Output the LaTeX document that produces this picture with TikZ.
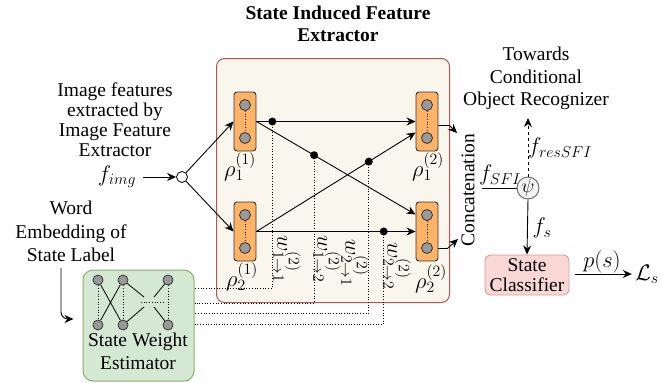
\RequirePackage{fix-cm}
\documentclass[tikz,border=0pt]{standalone}
\usepackage[no-math]{fontspec}
\setmainfont{Liberation Serif}
\usetikzlibrary{arrows.meta,calc}

\definecolor{sifeborder}{HTML}{B85450}
\definecolor{sifefill}{HTML}{F9F7ED}
\definecolor{rhoorange}{HTML}{FFB366}
\definecolor{unitgray}{HTML}{999999}
\definecolor{swegreen}{HTML}{82B366}
\definecolor{swefill}{HTML}{D5E8D4}
\definecolor{psiborder}{HTML}{666666}
\definecolor{psifill}{HTML}{F2F2F2}
\definecolor{scborder}{HTML}{DE9A98}
\definecolor{scfill}{HTML}{F8D7D5}

\begin{document}
\begin{tikzpicture}[x=1pt,y=1pt,
  font=\fontsize{19.5}{22}\selectfont,
  >={Stealth[length=9pt,width=8pt]},
  sife/.style={draw=sifeborder, fill=sifefill, rounded corners=8pt, line width=1pt},
  rhobox/.style={draw=black!80, fill=rhoorange, rounded corners=3pt,
    minimum width=22pt, minimum height=59pt, inner sep=0pt, line width=0.9pt},
  unit/.style={circle, draw=black!80, fill=unitgray, minimum size=11pt, inner sep=0pt, line width=0.8pt},
  conn/.style={->, line width=0.9pt},
  wire/.style={dotted, line width=0.7pt},
  mathlbl/.style={font=\fontsize{22.5}{25}\selectfont},
  tap/.style={circle, fill=black, minimum size=8pt, inner sep=0pt}]
\useasboundingbox (0,0) rectangle (662,-383);

% ---- State induced feature extractor ----
\node[sife, minimum width=233pt, minimum height=244pt, anchor=north west] (sife) at (216,-58) {};
\node[font=\bfseries\fontsize{19.5}{22}\selectfont, align=center] (title) at (338,-24) {State Induced Feature\\Extractor};

% feature groups rho
\node[rhobox] (r11) at (245,-121.5) {};
\node[rhobox] (r21) at (245,-231.5) {};
\node[rhobox] (r12) at (427,-121.5) {};
\node[rhobox] (r22) at (427,-231.5) {};
\foreach \r in {r11,r21,r12,r22}{
  \node[unit] (\r a) at ($(\r)+(0,16.5)$) {};
  \node[unit] (\r b) at ($(\r)+(0,-16.5)$) {};
  \draw[dotted, line width=0.7pt] (\r a) -- (\r b);
}
\node[mathlbl] (l11) at (240,-167) {$\rho_1^{(1)}$};
\node[mathlbl] (l21) at (242,-277) {$\rho_2^{(1)}$};
\node[mathlbl] (l12) at (428,-167) {$\rho_1^{(2)}$};
\node[mathlbl] (l22) at (431,-279) {$\rho_2^{(2)}$};

% weighted connections
\draw[conn] (r11.east) -- coordinate[pos=0.1] (d1) (r12.west);
\draw[conn] (r11.east) -- coordinate[pos=0.3625] (d2) ($(r22.west)+(0,17)$);
\draw[conn] (r21.east) -- coordinate[pos=0.706] (d3) ($(r12.west)+(0,-11)$);
\draw[conn] (r21.east) -- coordinate[pos=0.8] (d4) (r22.west);
\foreach \d in {d1,d2,d3,d4}{ \node[tap] (t\d) at (\d) {}; }

% weight labels
\node[mathlbl, rotate=-90] (w11) at (287,-259) {$w^{(2)}_{1\to1}$};
\node[mathlbl, rotate=-90] (w12) at (327,-259) {$w^{(2)}_{1\to2}$};
\node[mathlbl, rotate=-90] (w21) at (355,-263) {$w^{(2)}_{2\to1}$};
\node[mathlbl, rotate=-90] (w22) at (397,-266) {$w^{(2)}_{2\to2}$};

% ---- State weight estimator ----
\node[draw=swegreen, fill=swefill, rounded corners=10pt, minimum width=111pt,
      minimum height=111pt, line width=1pt] (swe) at (138.5,-325.5) {};
\node[align=center, font=\fontsize{19.5}{23}\selectfont] (swetext) at (138,-351) {State Weight\\Estimator};
\node[unit, minimum size=10pt] (s1) at (98,-280) {};
\node[unit, minimum size=10pt] (s2) at (123,-280) {};
\node[unit, minimum size=10pt] (s3) at (168,-280) {};
\node[unit, minimum size=10pt] (s4) at (98,-325) {};
\node[unit, minimum size=10pt] (s5) at (123,-325) {};
\node[unit, minimum size=10pt] (s6) at (168,-325) {};
\coordinate (m1) at (144,-297); \coordinate (m2) at (154,-297);
\coordinate (m3) at (144,-307); \coordinate (m4) at (154,-307);
\coordinate (m5) at (141,-302); \coordinate (m6) at (163,-302);
\draw[line width=0.8pt] (s1) -- (s5) (s2) -- (s4) (s2) -- (m1) (m2) -- (s3) (s5) -- (m3) (m4) -- (s6);
\draw[wire] (s1) -- (s4) (s2) -- (s5) (s3) -- (s6) (m5) -- (m6);

% weights routed to the estimator
\draw[wire] (d1) |- ($(swe.east)+(0,37.5)$);
\draw[wire] (d2) |- ($(swe.east)+(0,22.5)$);
\draw[wire] (d3) |- ($(swe.east)+(0,12.5)$);
\draw[wire] (d4) |- ($(swe.east)+(0,1.5)$);

% ---- inputs ----
\node[align=center, font=\fontsize{19.5}{20}\selectfont] (imgtext) at (115,-120) {Image features\\extracted by\\Image Feature\\Extractor};
\node[mathlbl] (fimg) at (117,-177) {$f_{img}$};
\node[circle, draw, fill=white, minimum size=11pt, inner sep=0pt, line width=0.8pt] (c) at (182,-177) {};
\draw[conn] ([xshift=3pt]fimg.east) -- (c.west);
\draw[conn] (c) -- (r11.west);
\draw[conn] (c) -- (r21.west);

\node[align=center, font=\fontsize{19.5}{23.5}\selectfont] (word) at (71,-231.5) {Word\\Embedding of\\State Label};
\coordinate (wstart) at (61,-268);
\draw[conn, rounded corners=7pt] (wstart) -- (61,-319) -- ($(swe.west)+(-9,6.5)$);

% ---- concatenation and outputs ----
\node[rotate=90] (cat) at (468,-190) {Concatenation};
\coordinate (cin1) at (457,-133);
\coordinate (cin2) at (458,-239);
\draw[conn] ($(r12.east)+(0,-4)$) -- ++(11,0) -- (cin1);
\draw[conn] ($(r22.east)+(0,-17)$) -- ++(9,0) -- (cin2);

\node[circle, draw=psiborder, fill=psifill, minimum size=22pt, inner sep=0pt, line width=0.9pt] (psi) at (528,-188) {$\psi$};
\coordinate (sfiin) at (482,-188);
\draw[line width=0.9pt] (sfiin) -- (psi.west);
\node[mathlbl] (fsfi) at (500,-175) {$f_{SFI}$};

\coordinate (resout) at (528,-118);
\draw[conn, dashed] (psi.north) -- (resout);
\node[mathlbl] (fres) at (560,-148) {$f_{resSFI}$};
\node[align=center, font=\fontsize{19.5}{22.5}\selectfont] (towards) at (536,-78.5) {Towards\\Conditional\\Object Recognizer};

\node[draw=scborder, fill=scfill, rounded corners=6pt, minimum width=84pt, minimum height=40pt,
      inner sep=0pt, align=center, line width=0.9pt, font=\fontsize{19.5}{20}\selectfont] (sc) at (527,-275) {State\\Classifier};
\draw[conn] (psi.south) -- (sc.north);
\node[mathlbl] (fs) at (542,-228) {$f_s$};

\node[mathlbl] (ls) at (647,-274) {$\mathcal{L}_s$};
\draw[conn] ($(sc.east)+(6,1)$) -- (ls.west);
\node[mathlbl] (ps) at (602,-262) {$p(s)$};
\end{tikzpicture}
\end{document}
